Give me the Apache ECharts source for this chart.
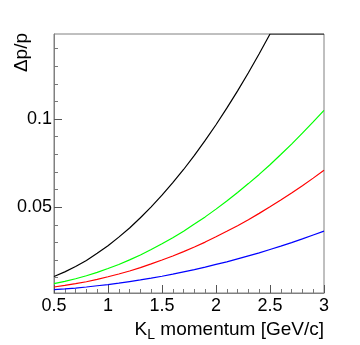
<!DOCTYPE html>
<html>
<head>
<meta charset="utf-8">
<script src="https://cdn.jsdelivr.net/npm/echarts@6/dist/echarts.min.js"></script>
<style>
  html, body { margin: 0; padding: 0; background: #fff; }
  #chart { width: 360px; height: 345px; }
</style>
</head>
<body>
<div id="chart"></div>
<script>
// momentum points (GeV/c)
var momentum = [0.5, 0.6, 0.7, 0.8, 0.9, 1.0, 1.1, 1.2, 1.3, 1.4, 1.5, 1.6, 1.7, 1.8, 1.9,
  2.0, 2.1, 2.2, 2.3, 2.4, 2.5, 2.6, 2.7, 2.8, 2.9, 3.0];

// dp/p (black curve runs along the frame top after 2.5)
var blackVals = [0.0107, 0.0133, 0.0163, 0.0198, 0.0238, 0.0281, 0.0330, 0.0382, 0.0440, 0.0502,
  0.0568, 0.0639, 0.0714, 0.0794, 0.0879, 0.0968, 0.1062, 0.1160, 0.1263, 0.1371,
  0.1483, 0.1483, 0.1483, 0.1483, 0.1483, 0.1483];
var greenVals = [0.0066, 0.0079, 0.0094, 0.0111, 0.0130, 0.0152, 0.0175, 0.0201, 0.0229, 0.0260,
  0.0292, 0.0327, 0.0364, 0.0404, 0.0445, 0.0489, 0.0535, 0.0583, 0.0634, 0.0686,
  0.0741, 0.0799, 0.0858, 0.0920, 0.0984, 0.1050];
var redVals = [0.0047, 0.0056, 0.0066, 0.0077, 0.0090, 0.0105, 0.0121, 0.0138, 0.0157, 0.0178,
  0.0200, 0.0223, 0.0248, 0.0274, 0.0302, 0.0332, 0.0363, 0.0395, 0.0429, 0.0465,
  0.0502, 0.0541, 0.0581, 0.0622, 0.0665, 0.0710];
var blueVals = [0.0032, 0.0036, 0.0041, 0.0047, 0.0054, 0.0061, 0.0069, 0.0078, 0.0087, 0.0097,
  0.0108, 0.0120, 0.0133, 0.0146, 0.0160, 0.0175, 0.0190, 0.0207, 0.0224, 0.0241,
  0.0260, 0.0279, 0.0299, 0.0320, 0.0342, 0.0364];

// axis ticks
var yMajor = [0.05, 0.1];
var yMinor = [0.01, 0.02, 0.03, 0.04, 0.06, 0.07, 0.08, 0.09, 0.11, 0.12, 0.13, 0.14];
var yRange = [0.0013, 0.1483];

function pairs(vals) {
  return momentum.map(function (p, i) { return [p, vals[i]]; });
}

var myChart = echarts.init(document.getElementById("chart"));
var font = "Liberation Sans";
var axisGray = "#808080";

var option = {
  animation: false,
  backgroundColor: "#fff",
  grid: {
    left: 54,
    right: 36,
    top: 34,
    bottom: 52,
    show: true,
    borderColor: axisGray,
    borderWidth: 1,
  },
  xAxis: {
    type: "value",
    min: 0.5,
    max: 3,
    interval: 0.5,
    splitLine: { show: false },
    axisLine: { lineStyle: { color: axisGray } },
    axisTick: { inside: true, length: 8, lineStyle: { color: "#555" } },
    minorTick: { show: true, splitNumber: 5, length: 4, lineStyle: { color: "#777" } },
    axisLabel: {
      margin: 4,
      color: "#000",
      fontFamily: font,
      fontSize: 18,
      showMinLabel: true,
      showMaxLabel: true,
    },
    name: "{k|K}{s|L}{k| momentum [GeV/c]}",
    nameLocation: "end",
    nameGap: 0,
    nameTextStyle: {
      align: "right",
      verticalAlign: "top",
      padding: [26, 0, 0, 0],
      rich: {
        k: { fontFamily: font, fontSize: 19, color: "#000", lineHeight: 22 },
        s: { fontFamily: font, fontSize: 14, color: "#000", lineHeight: 22, padding: [10, 0, 0, 0] },
      },
    },
  },
  yAxis: [
    {
      type: "value",
      min: yRange[0],
      max: yRange[1],
      splitLine: { show: false },
      axisLine: { show: true, lineStyle: { color: axisGray } },
      axisTick: { show: true, inside: true, length: 8, customValues: yMajor, lineStyle: { color: "#555" } },
      axisLabel: {
        customValues: yMajor,
        margin: 2,
        color: "#000",
        fontFamily: font,
        fontSize: 18,
        formatter: function (v) { return String(v); },
      },
      name: "Δp/p",
      nameLocation: "end",
      nameRotate: 90,
      nameGap: 1,
      nameTextStyle: {
        align: "right",
        verticalAlign: "bottom",
        padding: [0, 0, 23, 0],
        fontFamily: font,
        fontSize: 19,
        color: "#000",
      },
    },
    {
      type: "value",
      min: yRange[0],
      max: yRange[1],
      position: "left",
      splitLine: { show: false },
      axisLine: { show: false },
      axisTick: { show: true, inside: true, length: 4, customValues: yMinor, lineStyle: { color: "#777" } },
      axisLabel: { show: false },
    },
  ],
  series: [
    { type: "line", data: pairs(blackVals), color: "#000000" },
    { type: "line", data: pairs(greenVals), color: "#00ff00" },
    { type: "line", data: pairs(redVals), color: "#ff0000" },
    { type: "line", data: pairs(blueVals), color: "#0000ff" },
  ].map(function (s) {
    s.showSymbol = false;
    s.smooth = false;
    s.clip = true;
    s.lineStyle = { width: 1.2 };
    return s;
  }),
};

myChart.setOption(option);
window.addEventListener("resize", function () {
  myChart.resize();
});
</script>
</body>
</html>
